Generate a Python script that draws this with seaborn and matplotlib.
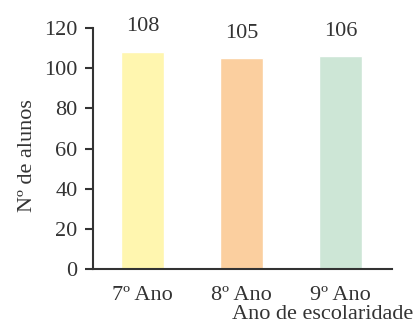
import matplotlib
matplotlib.use("Agg")
import matplotlib.pyplot as plt
import seaborn as sns
import pandas as pd

categories = ["7º Ano", "8º Ano", "9º Ano"]
values = [108, 105, 106]
colors = ["#FFF6AF", "#FBCF9F", "#CDE6D6"]
yticks = [0, 20, 40, 60, 80, 100, 120]

sns.set_style("white")
plt.rcParams['font.family'] = ['Liberation Serif', 'DejaVu Serif']
txt = "#333333"
fs = 16

df = pd.DataFrame({"ano": categories, "n": values})

fig = plt.figure(figsize=(4.15, 3.33), dpi=100)
ax = fig.add_axes([93/415, 1-269/333, 299/415, 241/333])
sns.barplot(data=df, x="ano", y="n", hue="ano", palette=colors, width=0.43,
            legend=False, ax=ax, saturation=1)

ax.set_ylim(0, 120)
ax.set_xlim(-0.5, 2.52)
ax.set_yticks(yticks)
ax.tick_params(axis='y', length=6, width=1.5, color=txt, labelsize=fs, labelcolor=txt, pad=5, left=True)
ax.tick_params(axis='x', length=0, labelsize=fs, labelcolor=txt, pad=12)
for s in ["top", "right"]:
    ax.spines[s].set_visible(False)
for s in ["left", "bottom"]:
    ax.spines[s].set_color(txt)
    ax.spines[s].set_linewidth(1.5)

for i, v in enumerate(values):
    ax.text(i, v + 12.5, str(v), ha='center', va='center', fontsize=fs, color=txt)

ax.set_ylabel("Nº de alunos", fontsize=fs, color=txt, va='center')
ax.yaxis.set_label_coords(-0.22, 0.47)
ax.set_xlabel("Ano de escolaridade", fontsize=fs, color=txt, ha='right', va='center')
ax.xaxis.set_label_coords(1.07, -0.19)

fig.savefig("out.png", dpi=100)
